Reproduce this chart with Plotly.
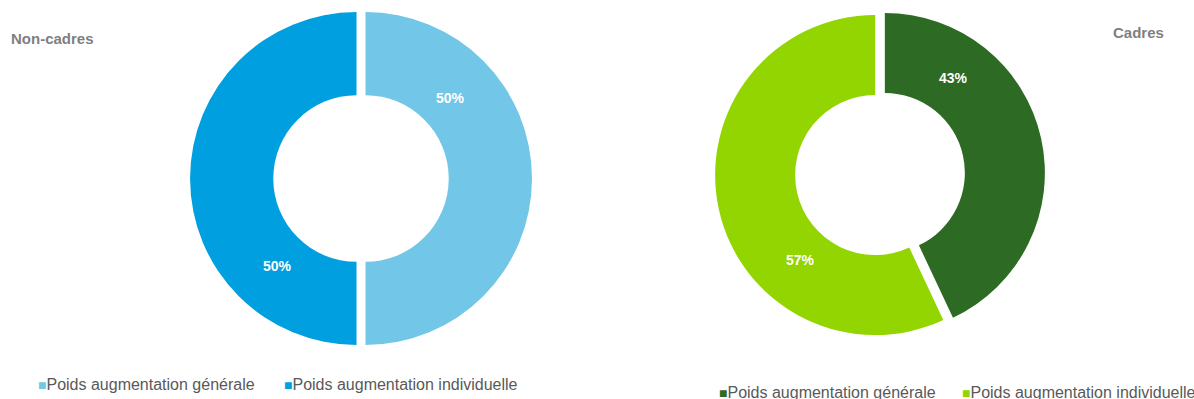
import plotly.graph_objects as go

# Chart data
categories = ["Poids augmentation générale", "Poids augmentation individuelle"]
non_cadres_values = [50, 50]
cadres_values = [43, 57]
panel_titles = ["Non-cadres", "Cadres"]

non_cadres_colors = ["#72C6E7", "#009FDF"]
cadres_colors = ["#2D6A23", "#93D500"]

W, H = 1194, 399


def px_x(v):
    return v / W


def px_y(v):
    return 1 - v / H


fig = go.Figure()

fig.add_trace(go.Pie(
    labels=categories,
    values=non_cadres_values,
    marker=dict(colors=non_cadres_colors, line=dict(width=0)),
    hole=0.5,
    sort=False,
    direction="clockwise",
    rotation=0,
    pull=[0.027, 0.027],
    textinfo="none",
    showlegend=False,
    domain=dict(x=[px_x(190), px_x(532)], y=[px_y(349.5), px_y(7.5)]),
))

fig.add_trace(go.Pie(
    labels=categories,
    values=cadres_values,
    marker=dict(colors=cadres_colors, line=dict(width=0)),
    hole=0.5,
    sort=False,
    direction="clockwise",
    rotation=0,
    pull=[0.031, 0.031],
    textinfo="none",
    showlegend=False,
    domain=dict(x=[px_x(715), px_x(1045)], y=[px_y(339), px_y(9)]),
))

annotations = []

# Panel titles
title_font = dict(family="Liberation Sans, Arial, sans-serif", size=15, color="#7F7F7F")
annotations.append(dict(text=f"<b>{panel_titles[0]}</b>", x=px_x(9), y=px_y(38),
                        xref="paper", yref="paper", xanchor="left", yanchor="middle",
                        showarrow=False, font=title_font))
annotations.append(dict(text=f"<b>{panel_titles[1]}</b>", x=px_x(1111), y=px_y(32),
                        xref="paper", yref="paper", xanchor="left", yanchor="middle",
                        showarrow=False, font=title_font))

# Data labels on the rings
label_font = dict(family="Liberation Sans, Arial, sans-serif", size=14, color="white")
label_pos_left = [(450, 98), (277, 266)]
label_pos_right = [(953, 78), (800, 260)]
for v, (lx, ly) in zip(non_cadres_values, label_pos_left):
    annotations.append(dict(text=f"<b>{v}%</b>", x=px_x(lx), y=px_y(ly), xref="paper", yref="paper",
                            xanchor="center", yanchor="middle", showarrow=False, font=label_font))
for v, (lx, ly) in zip(cadres_values, label_pos_right):
    annotations.append(dict(text=f"<b>{v}%</b>", x=px_x(lx), y=px_y(ly), xref="paper", yref="paper",
                            xanchor="center", yanchor="middle", showarrow=False, font=label_font))

# Legends (colour square + category name)
legend_font = dict(family="Liberation Sans, Arial, sans-serif", size=16, color="#595959")
left_legend_pos = [(36, 384), (282, 384)]
right_legend_pos = [(717, 392), (960, 392)]


def legend_text(cat, col):
    return f"<span style='color:{col};font-size:14px'>■</span>{cat}"


for cat, col, (lx, ly) in zip(categories, non_cadres_colors, left_legend_pos):
    annotations.append(dict(text=legend_text(cat, col), x=px_x(lx), y=px_y(ly),
                            xref="paper", yref="paper", xanchor="left", yanchor="middle",
                            showarrow=False, font=legend_font))
for cat, col, (lx, ly) in zip(categories, cadres_colors, right_legend_pos):
    annotations.append(dict(text=legend_text(cat, col), x=px_x(lx), y=px_y(ly),
                            xref="paper", yref="paper", xanchor="left", yanchor="middle",
                            showarrow=False, font=legend_font))

fig.update_layout(
    width=W, height=H,
    margin=dict(l=0, r=0, t=0, b=0),
    paper_bgcolor="white",
    plot_bgcolor="white",
    annotations=annotations,
)

fig.write_html("out.html")
